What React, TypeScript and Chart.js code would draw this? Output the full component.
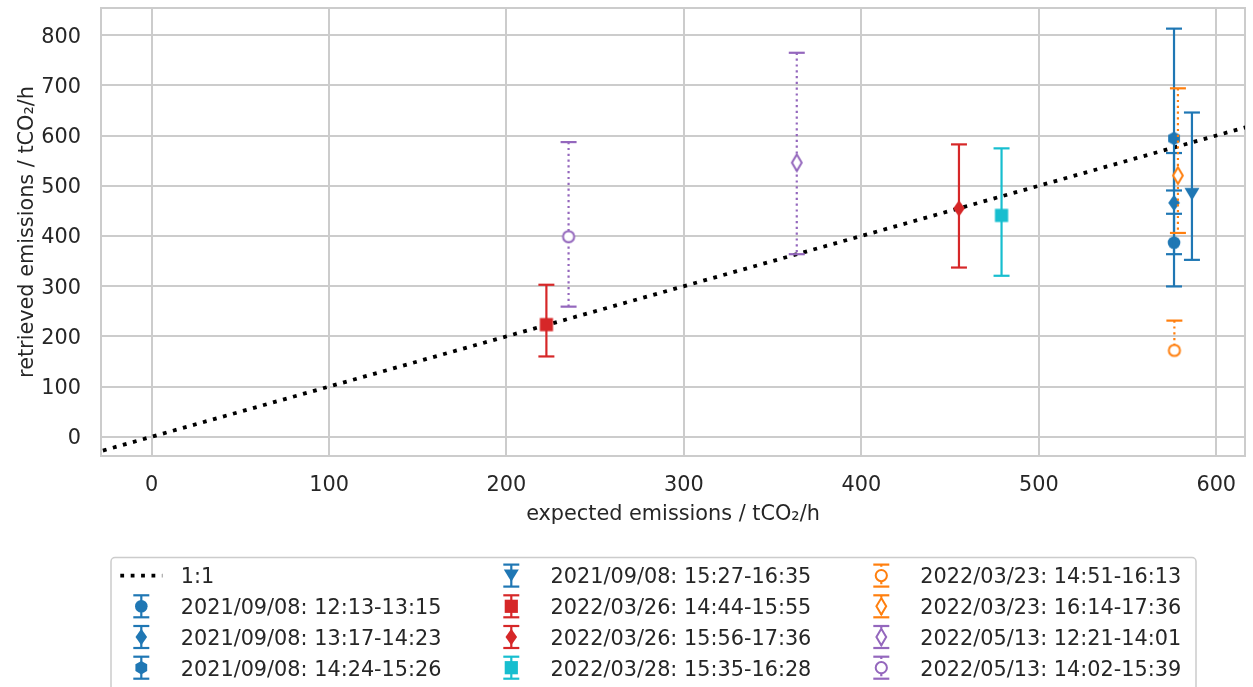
import React, { useEffect, useRef } from "react";
import { Chart, registerables } from "chart.js";

Chart.register(...registerables);

// ---------------- data ----------------
const seriesLabels = [
  "2021/09/08: 12:13-13:15",
  "2021/09/08: 13:17-14:23",
  "2021/09/08: 14:24-15:26",
  "2021/09/08: 15:27-16:35",
  "2022/03/26: 14:44-15:55",
  "2022/03/26: 15:56-17:36",
  "2022/03/28: 15:35-16:28",
  "2022/03/23: 14:51-16:13",
  "2022/03/23: 16:14-17:36",
  "2022/05/13: 12:21-14:01",
  "2022/05/13: 14:02-15:39",
];
const expected = [576.2, 576.2, 576.2, 586.3, 222.5, 455.0, 479.0, 576.4, 578.4, 363.6, 235.0];
const retrieved = [386.7, 466.0, 594.3, 483.3, 223.5, 454.9, 441.0, 172.0, 520.4, 546.0, 398.6];
const retrievedLow = [299.5, 363.7, 490.6, 352.4, 160.0, 337.1, 320.7, 172.0, 406.0, 363.7, 259.2];
const retrievedHigh = [444.2, 565.2, 813.0, 645.9, 302.8, 582.4, 574.5, 231.4, 694.1, 764.9, 587.0];

const oneToOneLabel = "1:1";
const oneToOneRange = [-50, 650];

const xTickValues = [0, 100, 200, 300, 400, 500, 600];
const yTickValues = [0, 100, 200, 300, 400, 500, 600, 700, 800];
const xTitle = "expected emissions / tCO\u2082/h";
const yTitle = "retrieved emissions / tCO\u2082/h";

// ---------------- styles ----------------
const BLUE = "#1f77b4";
const ORANGE = "#ff7f0e";
const RED = "#d62728";
const CYAN = "#17becf";
const PURPLE = "#9467bd";
const seriesColor = [BLUE, BLUE, BLUE, BLUE, RED, RED, CYAN, ORANGE, ORANGE, PURPLE, PURPLE];
const seriesMarker = ["o", "d", "h", "v", "s", "d", "s", "oo", "od", "od", "oo"];
const seriesDotted = [false, false, false, false, false, false, false, true, true, true, true];

const FONT = "'DejaVu Sans', 'Liberation Sans', sans-serif";
const FS = 20.8;
const TEXT = "#262626";
const GRID = "#cccccc";

function drawMarker(ctx: CanvasRenderingContext2D, kind: string, color: string, x: number, y: number) {
  ctx.save();
  ctx.fillStyle = color;
  ctx.strokeStyle = color;
  ctx.lineJoin = "miter";
  ctx.beginPath();
  if (kind === "o") {
    ctx.arc(x, y, 6.3, 0, Math.PI * 2);
    ctx.fill();
  } else if (kind === "h") {
    const r = 6.8;
    for (let k = 0; k < 6; k++) {
      const a = -Math.PI / 2 + (k * Math.PI) / 3;
      const px = x + r * Math.cos(a);
      const py = y + r * Math.sin(a);
      if (k === 0) ctx.moveTo(px, py);
      else ctx.lineTo(px, py);
    }
    ctx.closePath();
    ctx.fill();
  } else if (kind === "d") {
    ctx.moveTo(x, y - 8.2);
    ctx.lineTo(x + 5.8, y);
    ctx.lineTo(x, y + 8.2);
    ctx.lineTo(x - 5.8, y);
    ctx.closePath();
    ctx.fill();
  } else if (kind === "v") {
    ctx.moveTo(x - 7.5, y - 6.2);
    ctx.lineTo(x + 7.5, y - 6.2);
    ctx.lineTo(x, y + 6.2);
    ctx.closePath();
    ctx.fill();
  } else if (kind === "s") {
    ctx.rect(x - 6.6, y - 6.6, 13.2, 13.2);
    ctx.fill();
  } else if (kind === "oo") {
    ctx.arc(x, y, 5.6, 0, Math.PI * 2);
    ctx.fillStyle = "#ffffff";
    ctx.fill();
    ctx.lineWidth = 2;
    ctx.stroke();
  } else if (kind === "od") {
    ctx.moveTo(x, y - 8.2);
    ctx.lineTo(x + 4.9, y);
    ctx.lineTo(x, y + 8.2);
    ctx.lineTo(x - 4.9, y);
    ctx.closePath();
    ctx.fillStyle = "#ffffff";
    ctx.fill();
    ctx.lineWidth = 2;
    ctx.stroke();
  }
  ctx.restore();
}

function makeMarkerCanvas(kind: string, color: string): HTMLCanvasElement {
  const c = document.createElement("canvas");
  c.width = 26;
  c.height = 26;
  const ctx = c.getContext("2d")!;
  drawMarker(ctx, kind, color, 13, 13);
  return c;
}

function drawErrorBar(
  ctx: CanvasRenderingContext2D,
  color: string,
  dotted: boolean,
  x: number,
  yTop: number,
  yBottom: number,
  capTop: boolean,
  capBottom: boolean
) {
  ctx.save();
  ctx.strokeStyle = color;
  ctx.lineWidth = 2.2;
  ctx.lineCap = "butt";
  if (dotted) ctx.setLineDash([2.2, 3.6]);
  ctx.beginPath();
  ctx.moveTo(x, yTop);
  ctx.lineTo(x, yBottom);
  ctx.stroke();
  ctx.setLineDash([]);
  const caps: number[] = [];
  if (capTop) caps.push(yTop);
  if (capBottom) caps.push(yBottom);
  for (const cy of caps) {
    ctx.beginPath();
    ctx.moveTo(x - 8, cy);
    ctx.lineTo(x + 8, cy);
    ctx.stroke();
  }
  ctx.restore();
}

const framePlugin = {
  id: "frame",
  beforeDatasetsDraw(chart: any) {
    const { ctx, chartArea } = chart;
    ctx.save();
    ctx.strokeStyle = GRID;
    ctx.lineWidth = 2;
    ctx.strokeRect(chartArea.left, chartArea.top, chartArea.right - chartArea.left, chartArea.bottom - chartArea.top);
    ctx.restore();
  },
};

const errorBarsPlugin = {
  id: "errorBars",
  beforeDatasetDraw(chart: any, args: any) {
    const i = args.index;
    if (i >= seriesLabels.length) return;
    const xs = chart.scales.x;
    const ys = chart.scales.y;
    const px = xs.getPixelForValue(expected[i]);
    const ph = ys.getPixelForValue(retrievedHigh[i]);
    const pl = ys.getPixelForValue(retrievedLow[i]);
    drawErrorBar(
      chart.ctx,
      seriesColor[i],
      seriesDotted[i],
      px,
      ph,
      pl,
      retrievedHigh[i] !== retrieved[i],
      retrievedLow[i] !== retrieved[i]
    );
  },
};

const legendPlugin = {
  id: "customLegend",
  afterDraw(chart: any) {
    const ctx: CanvasRenderingContext2D = chart.ctx;
    ctx.save();
    ctx.beginPath();
    (ctx as any).roundRect(111, 557.5, 1085, 200, 4);
    ctx.fillStyle = "#ffffff";
    ctx.fill();
    ctx.strokeStyle = GRID;
    ctx.lineWidth = 1.5;
    ctx.stroke();

    const colHandle = [141.3, 511.3, 881.3];
    const colText = [180.7, 550.5, 920.3];
    const baseline0 = 583.4;
    const rowGap = 30.7;
    ctx.font = `${FS}px ${FONT}`;
    ctx.fillStyle = TEXT;
    ctx.textBaseline = "alphabetic";
    ctx.textAlign = "left";
    const total = seriesLabels.length + 1;
    for (let k = 0; k < total; k++) {
      const col = Math.floor(k / 4);
      const row = k % 4;
      const base = baseline0 + row * rowGap;
      const cy = base - 7.8;
      const hx = colHandle[col];
      if (k === 0) {
        ctx.save();
        ctx.strokeStyle = "#000000";
        ctx.lineWidth = 3.8;
        ctx.setLineDash([3.8, 6.6]);
        ctx.beginPath();
        ctx.moveTo(hx - 21, cy);
        ctx.lineTo(hx + 21, cy);
        ctx.stroke();
        ctx.restore();
        ctx.fillText(oneToOneLabel, colText[col], base);
      } else {
        const i = k - 1;
        drawErrorBar(ctx, seriesColor[i], seriesDotted[i], hx, cy - 11, cy + 11, true, true);
        drawMarker(ctx, seriesMarker[i], seriesColor[i], hx, cy);
        ctx.fillStyle = TEXT;
        ctx.fillText(seriesLabels[i], colText[col], base);
      }
    }
    ctx.restore();
  },
};

export default function App() {
  const ref = useRef<HTMLCanvasElement>(null);

  useEffect(() => {
    const canvas = ref.current!;
    const markerImgs = seriesMarker.map((m, i) => makeMarkerCanvas(m, seriesColor[i]));

    const datasets: any[] = seriesLabels.map((label, i) => ({
      type: "scatter",
      label,
      data: [{ x: expected[i], y: retrieved[i] }],
      pointStyle: markerImgs[i],
      pointRadius: 7,
      backgroundColor: seriesColor[i],
      borderColor: seriesColor[i],
      order: -i,
    }));
    datasets.push({
      type: "line",
      label: oneToOneLabel,
      data: oneToOneRange.map((v) => ({ x: v, y: v })),
      borderColor: "#000000",
      borderWidth: 3.8,
      borderDash: [3.8, 6.6],
      borderCapStyle: "butt",
      pointRadius: 0,
      fill: false,
      tension: 0,
      order: 100,
    });

    const tickFont = { family: FONT, size: FS };

    const chart = new Chart(canvas, {
      type: "scatter",
      data: { datasets },
      options: {
        animation: false,
        responsive: false,
        devicePixelRatio: 1,
        events: [],
        layout: { padding: { left: 0, top: 6, right: 7, bottom: 151 } },
        plugins: {
          legend: { display: false },
          tooltip: { enabled: false },
        },
        scales: {
          x: {
            type: "linear",
            min: -28.5,
            max: 616.2,
            afterBuildTicks: (s: any) => {
              s.ticks = xTickValues.map((v) => ({ value: v }));
            },
            afterFit: (s: any) => {
              s.height = 80;
              s.paddingLeft = 0;
              s.paddingRight = 0;
              s.paddingTop = 0;
              s.paddingBottom = 0;
            },
            ticks: {
              font: tickFont,
              color: TEXT,
              padding: 17,
              maxRotation: 0,
              autoSkip: false,
              callback: (v: any) => String(v),
            },
            grid: { color: GRID, lineWidth: 2, drawTicks: false },
            border: { display: false },
            title: {
              display: true,
              text: xTitle,
              font: tickFont,
              color: TEXT,
              padding: { top: 0, bottom: 8.5 },
            },
          },
          y: {
            type: "linear",
            min: -38.3,
            max: 854.1,
            afterBuildTicks: (s: any) => {
              s.ticks = yTickValues.map((v) => ({ value: v }));
            },
            afterFit: (s: any) => {
              s.width = 101;
              s.paddingLeft = 0;
              s.paddingRight = 0;
              s.paddingTop = 0;
              s.paddingBottom = 0;
            },
            ticks: {
              font: tickFont,
              color: TEXT,
              padding: 20,
              labelOffset: 2,
              autoSkip: false,
              callback: (v: any) => String(v),
            },
            grid: { color: GRID, lineWidth: 2, drawTicks: false },
            border: { display: false },
            title: {
              display: true,
              text: yTitle,
              font: tickFont,
              color: TEXT,
              padding: { top: 15, bottom: 0 },
            },
          },
        },
      } as any,
      plugins: [framePlugin, errorBarsPlugin, legendPlugin],
    });

    return () => chart.destroy();
  }, []);

  return (
    <div style={{ position: "absolute", left: 0, top: 0, width: 1253, height: 687, background: "#ffffff", overflow: "hidden" }}>
      <canvas ref={ref} width={1253} height={687} style={{ display: "block", width: 1253, height: 687 }} />
    </div>
  );
}
